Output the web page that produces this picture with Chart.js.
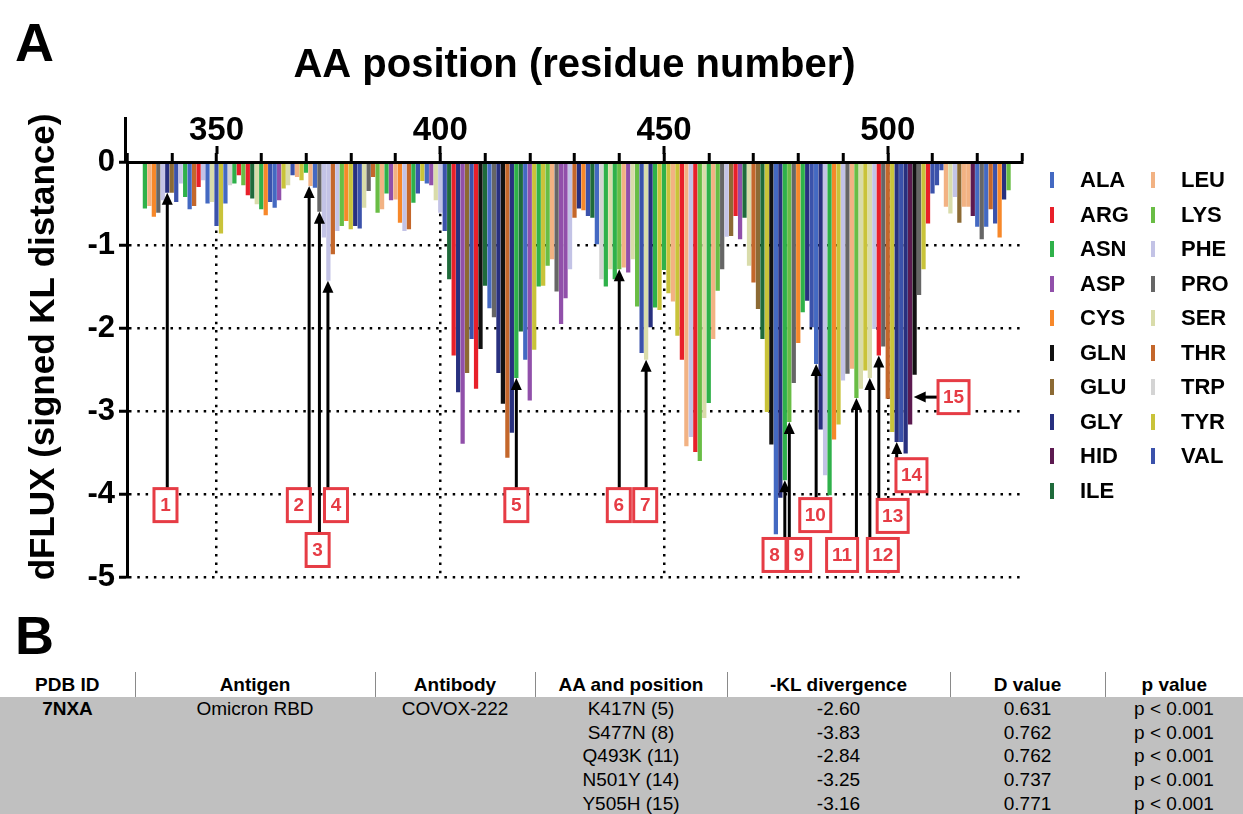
<!DOCTYPE html>
<html>
<head>
<meta charset="utf-8">
<script src="https://cdn.jsdelivr.net/npm/chart.js@4.4.1/dist/chart.umd.min.js"></script>
<style>
  body { margin: 0; background: #fff; font-family: "Liberation Sans", Arial, sans-serif; color: #000; }
  #page { position: relative; width: 1243px; height: 814px; overflow: hidden; }
  .panel-label { position: absolute; left: 15px; font-size: 54px; font-weight: bold; line-height: 54px; }
  #chartBox { position: absolute; left: 0; top: 0; width: 1243px; height: 600px; }
  #legend { position: absolute; left: 1050px; top: 163px; display: grid; grid-template-columns: 101px 100px;
            grid-template-rows: repeat(10, 34.5px); grid-auto-flow: column; }
  .legend-item { display: flex; align-items: center; font-weight: bold; font-size: 22px; }
  .legend-item i { display: inline-block; width: 4px; height: 16px; margin-right: 26px; }
  #tableB { position: absolute; left: 0; top: 672px; width: 1243px; border-collapse: collapse; table-layout: fixed; font-size: 19px; }
  #tableB th { font-weight: bold; height: 25px; padding: 0; border-left: 1px solid #8a8a8a; text-align: center; }
  #tableB th:first-child { border-left: none; }
  #tableB td { background: #c0c0c0; height: 23.7px; padding: 0; text-align: center; white-space: nowrap; }
</style>
</head>
<body>
<div id="page">
  <div class="panel-label" style="top:15px">A</div>
  <div id="chartBox"><canvas id="dfluxChart" width="1243" height="600"></canvas></div>
  <div id="legend"></div>
  <div class="panel-label" style="top:608px">B</div>
  <table id="tableB"></table>
</div>
<script>
// アミノ酸の種類（凡例の順番）
const aaNames = ['ALA', 'ARG', 'ASN', 'ASP', 'CYS', 'GLN', 'GLU', 'GLY', 'HID', 'ILE',
                 'LEU', 'LYS', 'PHE', 'PRO', 'SER', 'THR', 'TRP', 'TYR', 'VAL'];
const aaCodes = ['A', 'R', 'N', 'D', 'C', 'Q', 'E', 'G', 'H', 'I',
                 'L', 'K', 'F', 'P', 'S', 'T', 'W', 'Y', 'V'];
const aaColors = ['#4469c2', '#e8202a', '#2fb14a', '#9150aa', '#f7882a', '#111111', '#8c6a34', '#28307f', '#5c1a50', '#1f6b3b',
                  '#f2b283', '#69bd45', '#c3c3e6', '#666666', '#d9dcaa', '#c4672b', '#d4d4d4', '#c9c33a', '#3b52ab'];

// 残基番号 334 から 527 までの配列
const firstResidue = 334;
const sequence =
  'NLCPFGEVFN' + 'ATRFASVYAW' + 'NRKRISNCVA' + 'DYSVLYNLAP' + 'FFTFKCYGVS' +
  'PTKLNDLCFT' + 'NVYADSFVIR' + 'GDEVRQIAPG' + 'QTGNIADYNY' + 'KLPDDFTGCV' +
  'IAWNSNKLDS' + 'KVSGNYNYLY' + 'RLFRKSNLKP' + 'FERDISTEIY' + 'QAGNKPCNGV' +
  'AGFNCYFPLK' + 'SYSFRPTYGV' + 'GHQPYRVVVL' + 'SFELLHAPAT' + 'VCGK';

// dFLUX (signed KL distance)
const dflux = [
  -0.56, -0.53, -0.66, -0.61, -0.46, -0.37, -0.37, -0.48, -0.26, -0.42, // 334-343
  -0.57, -0.53, -0.30, -0.22, -0.50, -0.48, -0.77, -0.86, -0.50, -0.28, // 344-353
  -0.26, -0.16, -0.28, -0.40, -0.44, -0.51, -0.57, -0.64, -0.48, -0.55, // 354-363
  -0.46, -0.32, -0.28, -0.16, -0.18, -0.22, -0.13, -0.29, -0.31, -0.60, // 364-373
  -0.91, -1.43, -1.11, -0.83, -0.77, -0.71, -0.81, -0.77, -0.80, -0.55, // 374-383
  -0.35, -0.18, -0.61, -0.57, -0.38, -0.46, -0.45, -0.73, -0.83, -0.81, // 384-393
  -0.49, -0.38, -0.23, -0.26, -0.28, -0.46, -0.61, -0.83, -1.41, -2.33, // 394-403
  -2.77, -3.39, -2.54, -2.13, -2.73, -2.25, -1.49, -1.76, -1.87, -2.54, // 404-413
  -2.91, -3.56, -3.26, -2.60, -2.04, -2.38, -2.87, -2.26, -1.50, -1.49, // 414-423
  -1.25, -1.17, -1.56, -1.95, -1.64, -1.29, -0.67, -0.56, -0.58, -0.65, // 424-433
  -0.67, -0.99, -1.41, -1.50, -1.29, -1.41, -1.29, -1.27, -1.33, -1.17, // 434-443
  -1.74, -2.30, -2.38, -1.99, -1.75, -1.78, -1.30, -1.58, -1.68, -2.09, // 444-453
  -2.38, -3.42, -3.31, -3.49, -3.60, -3.08, -2.90, -2.13, -1.55, -1.29, // 454-463
  -0.90, -0.89, -0.65, -0.93, -0.67, -1.25, -1.45, -1.77, -2.13, -3.01, // 464-473
  -3.40, -4.48, -4.04, -3.83, -3.13, -2.66, -2.18, -1.81, -1.67, -1.99, // 474-483
  -2.43, -3.22, -3.77, -4.01, -3.34, -3.16, -2.63, -2.55, -2.49, -2.84, // 484-493
  -2.73, -2.51, -2.60, -2.01, -2.33, -2.22, -2.85, -3.25, -3.37, -3.37, // 494-503
  -3.51, -3.16, -2.56, -1.60, -1.29, -0.74, -0.38, -0.28, -0.10, -0.54, // 504-513
  -0.62, -0.42, -0.73, -0.54, -0.54, -0.65, -0.78, -0.93, -0.78, -0.57, // 514-523
  -0.74, -0.91, -0.45, -0.34                                            // 524-527
];

// 番号付きの矢印（変異箇所）
const callouts = [
  { label: '1',  res: 339,   boxX: 338.6, boxY: -4.13 },
  { label: '2',  res: 370.7, boxX: 368.4, boxY: -4.13 },
  { label: '3',  res: 373,   boxX: 372.6, boxY: -4.67 },
  { label: '4',  res: 374.9, boxX: 376.7, boxY: -4.13 },
  { label: '5',  res: 417,   boxX: 417,   boxY: -4.13 },
  { label: '6',  res: 440,   boxX: 439.9, boxY: -4.13 },
  { label: '7',  res: 446,   boxX: 445.8, boxY: -4.13 },
  { label: '8',  res: 477,   boxX: 474.7, boxY: -4.73 },
  { label: '9',  res: 478,   boxX: 480.2, boxY: -4.73 },
  { label: '10', res: 484,   boxX: 483.8, boxY: -4.25 },
  { label: '11', res: 493,   boxX: 489.8, boxY: -4.73 },
  { label: '12', res: 496,   boxX: 498.9, boxY: -4.73 },
  { label: '13', res: 498,   boxX: 501.1, boxY: -4.26 },
  { label: '14', res: 502,   boxX: 505.3, boxY: -3.77 },
  { label: '15', res: 505.8, boxX: 514.7, boxY: -2.83, horizontal: true }
];

// 表 B のデータ
const tableHeaders = ['PDB ID', 'Antigen', 'Antibody', 'AA and position', '-KL divergence', 'D value', 'p value'];
const columnWidths = [135, 240, 160, 192, 223, 155, 138];
const mutations = ['K417N (5)', 'S477N (8)', 'Q493K (11)', 'N501Y (14)', 'Y505H (15)'];
const klDivergence = ['-2.60', '-3.83', '-2.84', '-3.25', '-3.16'];
const dValues = ['0.631', '0.762', '0.762', '0.737', '0.771'];
const pValues = ['p < 0.001', 'p < 0.001', 'p < 0.001', 'p < 0.001', 'p < 0.001'];

const FONT = '"Liberation Sans", Arial, sans-serif';
const RED = '#e63c45';

function colorOf(code) {
    return aaColors[aaCodes.indexOf(code)];
}

function valueAt(res) {
    return dflux[Math.round(res) - firstResidue];
}

// 矢印を描く
function drawArrow(ctx, x1, y1, x2, y2) {
    const ang = Math.atan2(y2 - y1, x2 - x1);
    const len = 12, half = 5.5;
    ctx.strokeStyle = '#000';
    ctx.fillStyle = '#000';
    ctx.lineWidth = 3;
    ctx.beginPath();
    ctx.moveTo(x1, y1);
    ctx.lineTo(x2 - Math.cos(ang) * (len - 2), y2 - Math.sin(ang) * (len - 2));
    ctx.stroke();
    ctx.beginPath();
    ctx.moveTo(x2, y2);
    ctx.lineTo(x2 - Math.cos(ang) * len - Math.sin(ang) * half, y2 - Math.sin(ang) * len + Math.cos(ang) * half);
    ctx.lineTo(x2 - Math.cos(ang) * len + Math.sin(ang) * half, y2 - Math.sin(ang) * len - Math.cos(ang) * half);
    ctx.closePath();
    ctx.fill();
}

const extrasPlugin = {
    id: 'extras',
    afterDraw(chart) {
        const { ctx, chartArea, scales: { x, y } } = chart;
        ctx.save();

        // y軸の線を 0 より上に延ばす
        ctx.strokeStyle = '#000';
        ctx.lineWidth = 3;
        ctx.beginPath();
        ctx.moveTo(y.right - 1.5, chartArea.top);
        ctx.lineTo(y.right - 1.5, chartArea.top - 45);
        ctx.stroke();

        // 50 ごとの目盛りを長くする
        [350, 400, 450, 500].forEach(v => {
            const px = Math.round(x.getPixelForValue(v));
            ctx.beginPath();
            ctx.moveTo(px, chartArea.top - 8);
            ctx.lineTo(px, chartArea.top - 16);
            ctx.stroke();
        });

        // 矢印と番号
        callouts.forEach(c => {
            const w = c.label.length > 1 ? 31 : 23, h = 33;
            const bx = x.getPixelForValue(c.boxX), by = y.getPixelForValue(c.boxY);
            if (c.horizontal) {
                drawArrow(ctx, bx - w / 2, by, x.getPixelForValue(c.res), by);
            } else {
                const ax = x.getPixelForValue(c.res);
                drawArrow(ctx, ax, by - h / 2, ax, y.getPixelForValue(valueAt(c.res)));
            }
            ctx.fillStyle = '#fff';
            ctx.fillRect(bx - w / 2, by - h / 2, w, h);
            ctx.strokeStyle = RED;
            ctx.lineWidth = 3;
            ctx.strokeRect(bx - w / 2, by - h / 2, w, h);
            ctx.fillStyle = RED;
            ctx.font = 'bold 19px ' + FONT;
            ctx.textAlign = 'center';
            ctx.textBaseline = 'middle';
            ctx.fillText(c.label, bx, by + 1);
        });

        // y軸タイトル
        ctx.translate(44, 347);
        ctx.rotate(-Math.PI / 2);
        ctx.fillStyle = '#000';
        ctx.font = 'bold 35px ' + FONT;
        ctx.textAlign = 'center';
        ctx.textBaseline = 'middle';
        ctx.fillText('dFLUX (signed KL distance)', 0, 0);
        ctx.restore();
    }
};

function createChart() {
    const points = dflux.map((v, i) => ({ x: firstResidue + i, y: v }));
    const colors = sequence.split('').map(colorOf);

    Chart.defaults.font.family = FONT;
    Chart.defaults.color = '#000';

    const ctx = document.getElementById('dfluxChart').getContext('2d');
    new Chart(ctx, {
        type: 'bar',
        data: {
            datasets: [{
                data: points,
                backgroundColor: colors,
                borderWidth: 0,
                barPercentage: 0.95,
                categoryPercentage: 1
            }]
        },
        options: {
            responsive: false,
            animation: false,
            layout: { padding: { left: 0, right: 221, top: 0, bottom: 20 } },
            plugins: {
                legend: { display: false },
                tooltip: { enabled: false }
            },
            scales: {
                x: {
                    type: 'linear',
                    position: 'top',
                    min: 330,
                    max: 530,
                    offset: false,
                    afterFit(scale) { scale.height = 162; },
                    ticks: {
                        stepSize: 10,
                        autoSkip: false,
                        maxRotation: 0,
                        padding: 2,
                        font: { size: 33, weight: 'bold' },
                        callback: v => (v % 50 === 0 ? String(v) : '')
                    },
                    grid: {
                        offset: false,
                        color: c => (c.tick && c.tick.value % 50 === 0 ? '#000' : 'rgba(0,0,0,0)'),
                        lineWidth: 2.5,
                        tickColor: '#000',
                        tickLength: 9,
                        tickWidth: 3
                    },
                    border: { color: '#000', width: 3, dash: [2.5, 5.8], z: 1 },
                    title: {
                        display: true,
                        text: 'AA position (residue number)',
                        font: { size: 40, weight: 'bold' },
                        padding: { top: 42, bottom: 0 }
                    }
                },
                y: {
                    min: -5,
                    max: 0,
                    afterFit(scale) { scale.width = 127; },
                    ticks: {
                        stepSize: 1,
                        padding: 4,
                        font: { size: 31, weight: 'bold' }
                    },
                    grid: {
                        color: '#000',
                        lineWidth: 2.5,
                        tickColor: '#000',
                        tickLength: 8,
                        tickWidth: 3
                    },
                    border: { color: '#000', width: 3, dash: [2.5, 5.8] }
                }
            }
        },
        plugins: [extrasPlugin]
    });
}

function createLegend() {
    const legend = document.getElementById('legend');
    aaNames.forEach((name, i) => {
        const item = document.createElement('div');
        item.className = 'legend-item';
        item.innerHTML = `<i style="background:${aaColors[i]}"></i>${name}`;
        legend.appendChild(item);
    });
}

function createTable() {
    const table = document.getElementById('tableB');
    const colgroup = document.createElement('colgroup');
    columnWidths.forEach(w => {
        const col = document.createElement('col');
        col.style.width = w + 'px';
        colgroup.appendChild(col);
    });
    table.appendChild(colgroup);

    const head = document.createElement('tr');
    tableHeaders.forEach(t => {
        const th = document.createElement('th');
        th.textContent = t;
        head.appendChild(th);
    });
    table.appendChild(head);

    mutations.forEach((m, i) => {
        const tr = document.createElement('tr');
        const cells = [
            i === 0 ? '<b>7NXA</b>' : '',
            i === 0 ? 'Omicron RBD' : '',
            i === 0 ? 'COVOX-222' : '',
            m, klDivergence[i], dValues[i], pValues[i]
        ];
        cells.forEach(c => {
            const td = document.createElement('td');
            td.innerHTML = c;
            tr.appendChild(td);
        });
        table.appendChild(tr);
    });
}

createLegend();
createTable();
createChart();
</script>
</body>
</html>
